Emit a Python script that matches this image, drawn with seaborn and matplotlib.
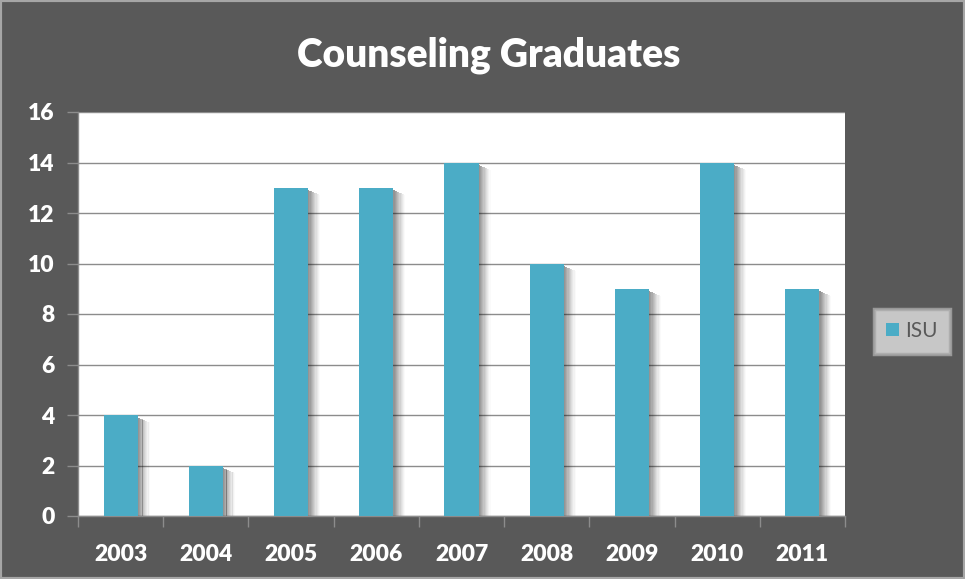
import matplotlib
matplotlib.use("Agg")
import matplotlib.pyplot as plt
import seaborn as sns
import pandas as pd
from matplotlib.patches import Rectangle, Patch

years = ["2003", "2004", "2005", "2006", "2007", "2008", "2009", "2010", "2011"]
graduates = [4, 2, 13, 13, 14, 10, 9, 14, 9]
series_name = "ISU"
title = "Counseling Graduates"
yticks = [0, 2, 4, 6, 8, 10, 12, 14, 16]

df = pd.DataFrame({"Year": years, "Graduates": graduates, "Series": series_name})

sns.set_theme(style="white")
plt.rcParams["font.family"] = ["Lato", "DejaVu Sans"]

bg = "#595959"
bar_color = "#4bacc6"
grid_color = "#8c8c8c"

fig = plt.figure(figsize=(9.65, 5.79), dpi=100, facecolor=bg)
ax = fig.add_axes([78 / 965, 1 - 516 / 579, (845 - 78) / 965, (516 - 112) / 579])
ax.set_facecolor("white")

sns.barplot(data=df, x="Year", y="Graduates", hue="Series", palette=[bar_color],
            width=0.40, ax=ax, legend=False, zorder=3, saturation=1, linewidth=0)

# soft shadow to the right of each bar (fading strips)
px = len(years) / 767.0
alphas = [0.42, 0.38, 0.33, 0.28, 0.23, 0.18, 0.13, 0.09, 0.05, 0.02]
for p in list(ax.patches):
    x0, w, h = p.get_x(), p.get_width(), p.get_height()
    right = x0 + w
    for i, a in enumerate(alphas):
        ax.add_patch(Rectangle((right + i * 1.2 * px, 0), 1.25 * px, h - 0.1 - i * 0.02,
                               facecolor="black", alpha=a, lw=0, zorder=2))

ax.set_ylim(0, 16)
ax.set_xlim(-0.5, len(years) - 0.5)
ax.set_yticks(yticks)
ax.set_yticklabels([str(t) for t in yticks])
ax.yaxis.grid(True, color=grid_color, lw=1, zorder=0)
ax.set_axisbelow(True)
ax.set_xlabel("")
ax.set_ylabel("")
for s in ["top", "right"]:
    ax.spines[s].set_visible(False)
for s in ["left", "bottom"]:
    ax.spines[s].set_color(grid_color)
    ax.spines[s].set_linewidth(1)

ax.tick_params(axis="y", colors="white", labelsize=16.5, length=8, width=1,
               direction="out", left=True, pad=9)
ax.tick_params(axis="x", colors="white", labelsize=16.5, length=0, pad=20)
for lab in ax.get_xticklabels() + ax.get_yticklabels():
    lab.set_fontweight("heavy")
    lab.set_color("white")
ax.yaxis.set_tick_params(color=grid_color)

# x tick marks at category boundaries
ax.set_xticks([i - 0.5 for i in range(len(years) + 1)], minor=True)
ax.tick_params(axis="x", which="minor", length=8, width=1, color=grid_color, bottom=True)

fig.text(489 / 965, 1 - 55 / 579, title, ha="center", va="center",
         fontsize=28, fontweight="heavy", color="white")

# legend
leg = fig.legend(handles=[Patch(facecolor=bar_color, edgecolor="none", label=series_name)],
                 loc="center", bbox_to_anchor=(912 / 965, 1 - 331 / 579),
                 frameon=True, fontsize=15, handlelength=0.6, handleheight=0.6,
                 handletextpad=0.3, borderpad=0.6, borderaxespad=0, fancybox=False)
leg.get_frame().set_facecolor("#e3e3e3")
leg.get_frame().set_edgecolor("#a8a8a8")
leg.get_frame().set_linewidth(2.5)
for t in leg.get_texts():
    t.set_color("#595959")

# outer light frame
fig.patches.append(Rectangle((0, 0), 1, 1, transform=fig.transFigure, fill=False,
                             edgecolor="#a6a6a6", lw=3, zorder=10))

fig.savefig("out.png", dpi=100, facecolor=bg)
